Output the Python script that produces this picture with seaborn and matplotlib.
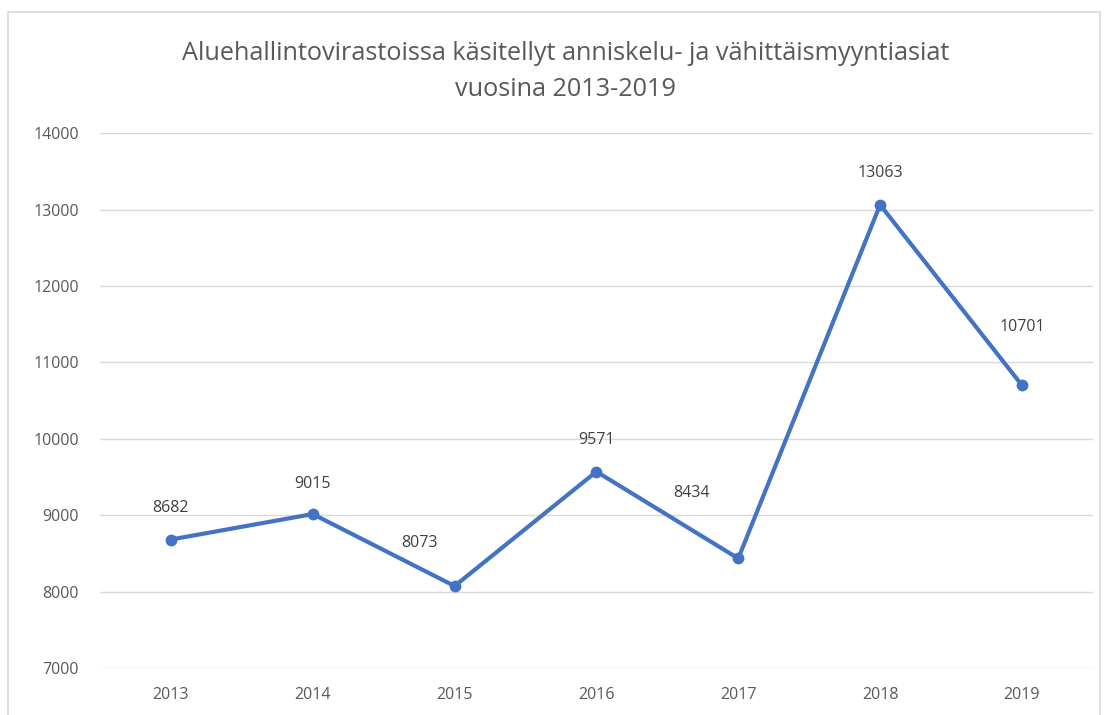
import pandas as pd
import seaborn as sns
import matplotlib.pyplot as plt
from matplotlib.patches import Rectangle

# Data
years = ['2013', '2014', '2015', '2016', '2017', '2018', '2019']
cases = [8682, 9015, 8073, 9571, 8434, 13063, 10701]

# label offsets (points) - some labels sit left of their point
label_dx = [0, 0, -25, 0, -34, 0, 0]
label_dy = [23, 22, 31, 23, 47, 23, 42]

df = pd.DataFrame({'year': years, 'cases': cases})

sns.set_style('white')
plt.rcParams['font.family'] = ['Open Sans', 'DejaVu Sans']

fig = plt.figure(figsize=(11.05, 7.15), dpi=100)
ax = fig.add_axes([0.0905, 0.0657, 0.8985, 0.748])

sns.lineplot(data=df, x='year', y='cases', ax=ax, color='#4472C4',
             linewidth=3.0, marker='o', markersize=8.5, markeredgewidth=0)

for i, v in enumerate(cases):
    ax.annotate(str(v), (i, v), xytext=(label_dx[i], label_dy[i]),
                textcoords='offset points', ha='center', va='center',
                fontsize=11.5, color='#404040')

ax.set_xlim(-0.5, len(years) - 0.5)
ax.set_ylim(7000, 14000)
ax.set_yticks(range(7000, 14001, 1000))
ax.yaxis.grid(True, color='#d9d9d9', linewidth=1)
ax.set_axisbelow(True)
for s in ax.spines.values():
    s.set_visible(False)
ax.tick_params(axis='both', length=0, labelsize=11.5, colors='#595959')
ax.tick_params(axis='x', pad=14)
ax.tick_params(axis='y', pad=15)
ax.set_xlabel('')
ax.set_ylabel('')

fig.text(0.512, 0.9, 'Aluehallintovirastoissa käsitellyt anniskelu- ja vähittäismyyntiasiat\nvuosina 2013-2019',
         ha='center', va='center', fontsize=18.2, color='#595959', linespacing=1.55)

fig.patches.append(Rectangle((8 / 1105, -0.01), 1092 / 1105, 1 - 12 / 715 + 0.01,
                             transform=fig.transFigure, fill=False,
                             edgecolor='#d9d9d9', linewidth=1.2))

plt.savefig('out.png', dpi=100)
